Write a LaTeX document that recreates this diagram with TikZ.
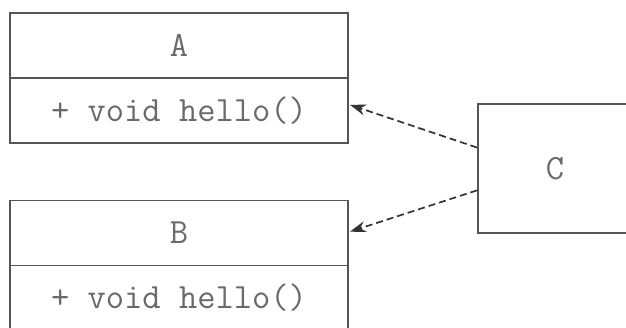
\documentclass[tikz,border=0pt]{standalone}
\usetikzlibrary{calc,arrows.meta}
\definecolor{boxline}{HTML}{555555}
\definecolor{txt}{HTML}{6A6A6A}
\definecolor{arr}{HTML}{333333}
\tikzset{
  umlfont/.style={text=txt, font=\ttfamily\fontsize{35.5}{36}\selectfont},
  umlpart/.style={draw=boxline, line width=1.9pt, rectangle, inner sep=0pt,
    minimum width=338pt, minimum height=65pt, umlfont},
  dep/.style={draw=arr, line width=1.7pt, dash pattern=on 7pt off 4pt,
    -{Stealth[length=16pt,width=11pt]}}
}
\begin{document}
\begin{tikzpicture}[x=1pt,y=-1pt]
\useasboundingbox (0,0) rectangle (626,327);
\clip (0,0) rectangle (626,327);
\fill[white] (0,0) rectangle (626,327);
\node[umlpart] (At) at (179,45.5) {A};
\node[umlpart] (Am) at (179,110.5) {+ void hello()};
\node[umlpart] (Bt) at (179,233) {B};
\node[umlpart] (Bm) at (179,298) {+ void hello()};
\node[umlpart, minimum width=154pt, minimum height=129pt] (C) at (555,168.5) {};
\node[umlfont] (Cl) at (C.center) {C};
\coordinate (c1) at ($(C.north west)!0.34!(C.south west)$);
\coordinate (c2) at ($(C.north west)!0.667!(C.south west)$);
\coordinate (a1) at ($(Am.north east)!0.415!(Am.south east)+(1,0)$);
\coordinate (b1) at ($(Bt.north east)!0.48!(Bt.south east)+(1,0)$);
\draw[dep] (c1) -- (a1);
\draw[dep] (c2) -- (b1);
\end{tikzpicture}
\end{document}
